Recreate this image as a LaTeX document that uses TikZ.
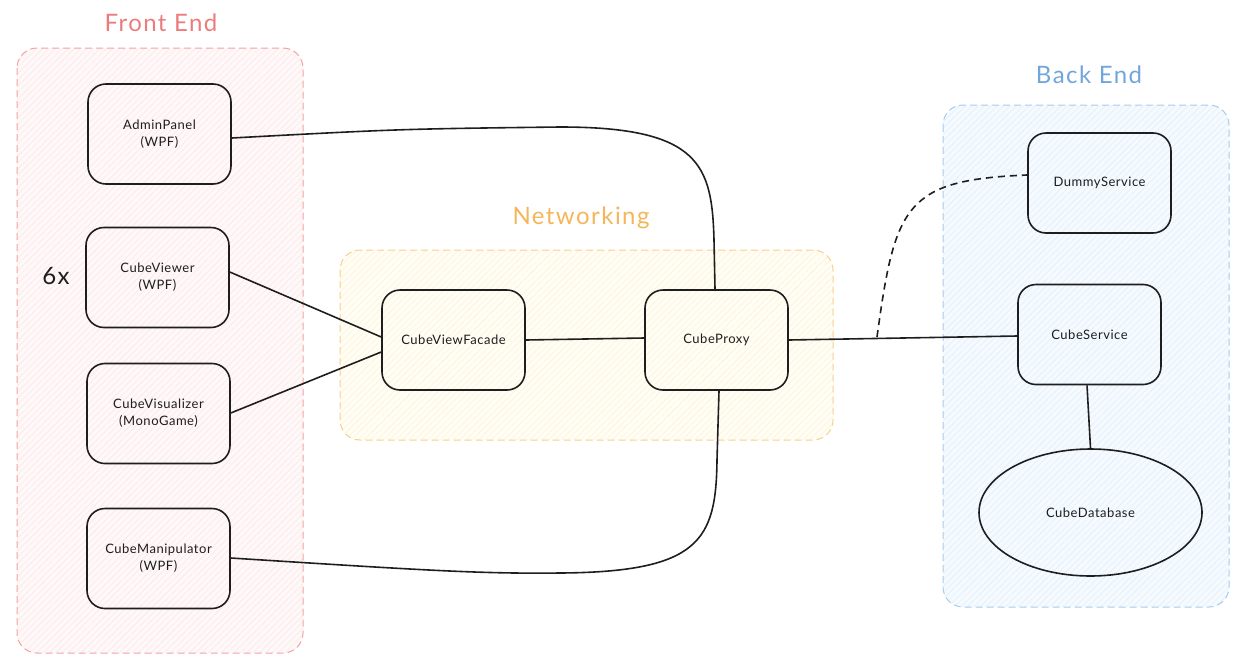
\documentclass[tikz,border=0pt]{standalone}
\usepackage{fontspec}
\setmainfont{Lato}
\newfontfamily\titlefont{Lato}[LetterSpace=6]
\newfontfamily\compfont{Lato}[LetterSpace=4]
\usetikzlibrary{shapes.geometric,patterns.meta}
\definecolor{feLine}{HTML}{F2A3A3}
\definecolor{feFill}{HTML}{FFF8F8}
\definecolor{feHatch}{HTML}{FCE4E4}
\definecolor{feText}{HTML}{EC7C7C}
\definecolor{nwLine}{HTML}{F8D08E}
\definecolor{nwFill}{HTML}{FFFDF4}
\definecolor{nwHatch}{HTML}{FCF2D6}
\definecolor{nwText}{HTML}{F5B55A}
\definecolor{beLine}{HTML}{A9CBEC}
\definecolor{beFill}{HTML}{F5FAFF}
\definecolor{beHatch}{HTML}{DFEDFA}
\definecolor{beText}{HTML}{72A6DA}
\definecolor{ink}{HTML}{1E1E1E}
\tikzset{
  group/.style={rounded corners=20pt, dash pattern=on 7pt off 4pt, line width=1pt},
  hatch/.style={pattern={Lines[angle=45,distance=4.5pt,line width=0.45pt]}, rounded corners=20pt},
  comp/.style={draw=ink, line width=1.6pt, rounded corners=18pt, minimum width=143pt, minimum height=100pt, align=center, font=\compfont\fontsize{13}{17}\selectfont, text=ink},
  db/.style={draw=ink, line width=1.6pt, ellipse, minimum width=223pt, minimum height=127pt, font=\compfont\fontsize{13}{17}\selectfont, text=ink},
  wire/.style={draw=ink, line width=1.6pt},
  title/.style={font=\titlefont\fontsize{24}{28}\selectfont}
}
\begin{document}
\begin{tikzpicture}[x=1pt,y=-1pt]
\useasboundingbox (0,0) rectangle (1247,664);
% groups
\fill[feFill, rounded corners=20pt] (17,48) rectangle (303,653);
\fill[hatch, pattern color=feHatch] (17,48) rectangle (303,653);
\draw[group, feLine] (17,48) rectangle (303,653);
\fill[nwFill, rounded corners=20pt] (340,250) rectangle (833,440);
\fill[hatch, pattern color=nwHatch] (340,250) rectangle (833,440);
\draw[group, nwLine] (340,250) rectangle (833,440);
\fill[beFill, rounded corners=20pt] (943,105) rectangle (1229,607);
\fill[hatch, pattern color=beHatch] (943,105) rectangle (1229,607);
\draw[group, beLine] (943,105) rectangle (1229,607);
% titles
\node[title, text=feText] (tfe) at (161,23) {Front End};
\node[title, text=nwText] (tnw) at (581,218) {Networking};
\node[title, text=beText] (tbe) at (1089,75) {Back End};
\node[font=\titlefont\fontsize{24}{28}\selectfont, text=ink] (six) at (56,276) {6x};
% components
\node[comp] (admin) at (159.5,134) {AdminPanel\\(WPF)};
\node[comp] (viewer) at (157.5,277.5) {CubeViewer\\(WPF)};
\node[comp] (visual) at (158.5,413.5) {CubeVisualizer\\(MonoGame)};
\node[comp] (manip) at (158.5,558.5) {CubeManipulator\\(WPF)};
\node[comp] (facade) at (453.5,340) {CubeViewFacade};
\node[comp] (proxy) at (716.5,340) {CubeProxy};
\node[comp] (dummy) at (1099.5,183) {DummyService};
\node[comp] (service) at (1089.5,334.5) {CubeService};
\node[db] (database) at (1090.5,512.5) {CubeDatabase};
\coordinate (split) at (877,337);
% connectors
\draw[wire] (admin.east |- 0,138) .. controls (400,129) .. (560,127) .. controls (700,127) and (712,165) .. (714,240) -- (proxy.north -| 715,0);
\draw[wire] (viewer.east |- 0,272) -- (facade.west |- 0,337);
\draw[wire] (visual.east |- 0,413) -- (facade.west |- 0,352);
\draw[wire] (facade.east) -- (proxy.west |- 0,338);
\draw[wire] (manip.east |- 0,558) .. controls (420,570) and (480,574) .. (560,573) .. controls (700,572) and (716,540) .. (717,460) -- (proxy.south -| 719,0);
\draw[wire] (proxy.east) -- (service.west |- 0,336);
\draw[wire, dash pattern=on 7pt off 5pt] (split) .. controls (895,205) and (905,180) .. (dummy.west |- 0,175);
\draw[wire] (service.south -| 1087,0) -- (database.north);
\end{tikzpicture}
\end{document}
